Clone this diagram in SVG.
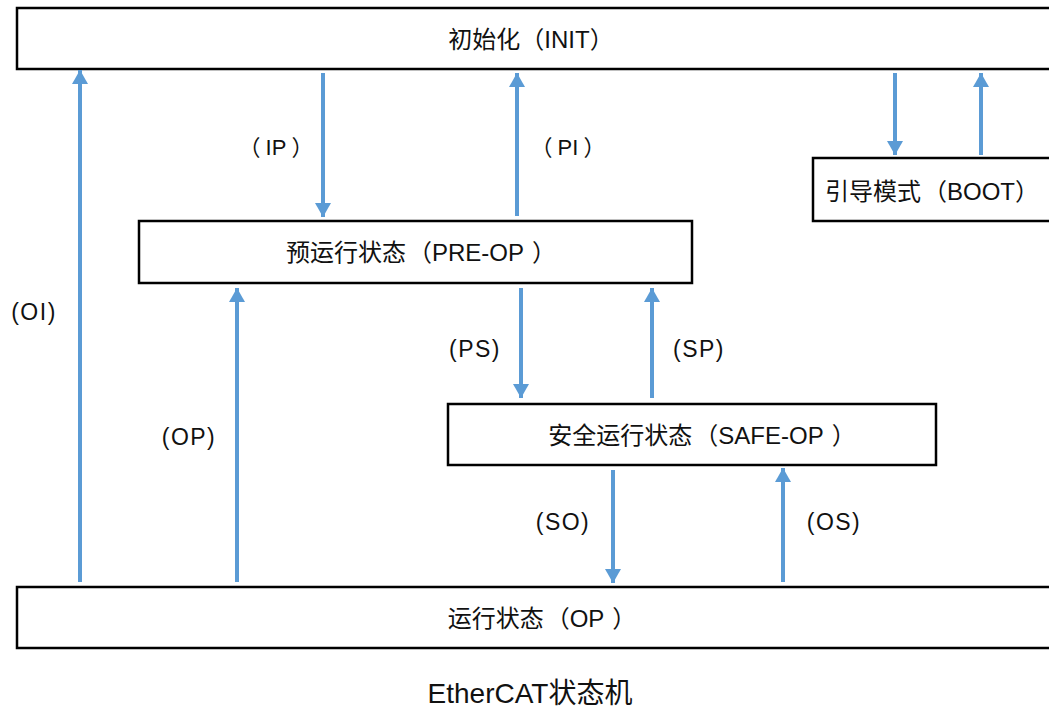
<svg xmlns="http://www.w3.org/2000/svg" width="1049" height="710" viewBox="0 0 1049 710">
<defs>
<marker id="ah" markerUnits="userSpaceOnUse" markerWidth="16" markerHeight="16" viewBox="0 0 16 16" refX="14" refY="8" orient="auto">
<path d="M0,0 L14,8 L0,16 Z" fill="#5B9BD5"/>
</marker>
<style>
.box{fill:#fff;stroke:#000;stroke-width:2.5}
.t{font-family:"Liberation Sans","Noto Sans CJK SC",sans-serif;font-size:24px;fill:#111;text-anchor:middle}
.l{font-family:"Liberation Sans","Noto Sans CJK SC",sans-serif;font-size:23px;letter-spacing:1.5px;fill:#111;text-anchor:middle}
.c{stroke:#5B9BD5;stroke-width:4;fill:none;marker-end:url(#ah)}
</style>
</defs>
<rect width="1049" height="710" fill="#fff"/>
<g id="init"><rect class="box" x="17" y="8" width="1045" height="61"/><text class="t" x="531" y="48">初始化<tspan>（</tspan>INIT<tspan>）</tspan></text></g>
<g id="boot"><rect class="box" x="813" y="158" width="250" height="63"/><text class="t" x="932" y="200">引导模式<tspan dx="2">（</tspan>BOOT<tspan>）</tspan></text></g>
<g id="preop"><rect class="box" x="139" y="221" width="553" height="62"/><text class="t" x="421" y="261">预运行状态<tspan dx="2">（</tspan>PRE-OP<tspan dx="8">）</tspan></text></g>
<g id="safeop"><rect class="box" x="448" y="404" width="488" height="61"/><text class="t" x="702" y="444">安全运行状态<tspan dx="2">（</tspan>SAFE-OP<tspan dx="8">）</tspan></text></g>
<g id="op"><rect class="box" x="17" y="587" width="1045" height="61"/><text class="t" x="542" y="627">运行状态<tspan dx="2">（</tspan>OP<tspan dx="8">）</tspan></text></g>
<g id="connectors">
<line class="c" x1="80" y1="582" x2="80" y2="70"/>
<line class="c" x1="323" y1="73" x2="323" y2="217"/>
<line class="c" x1="517" y1="216" x2="517" y2="73"/>
<line class="c" x1="895" y1="73" x2="895" y2="155"/>
<line class="c" x1="981" y1="155" x2="981" y2="73"/>
<line class="c" x1="237" y1="582" x2="237" y2="288"/>
<line class="c" x1="521" y1="288" x2="521" y2="398"/>
<line class="c" x1="652" y1="398" x2="652" y2="288"/>
<line class="c" x1="613" y1="470" x2="613" y2="583"/>
<line class="c" x1="783" y1="582" x2="783" y2="468"/>
</g>
<g id="labels">
<text class="t" x="276" y="155" style="font-size:22px">（<tspan dx="5">IP</tspan><tspan dx="5">）</tspan></text>
<text class="t" x="568" y="155" style="font-size:22px">（<tspan dx="5">PI</tspan><tspan dx="5">）</tspan></text>
<text class="l" x="34" y="320">(OI)</text>
<text class="l" x="189" y="445">(OP)</text>
<text class="l" x="475" y="357">(PS)</text>
<text class="l" x="699" y="357">(SP)</text>
<text class="l" x="563" y="530">(SO)</text>
<text class="l" x="834" y="530">(OS)</text>
</g>
<text class="t" x="530" y="703" style="font-size:28px">EtherCAT状态机</text>
</svg>
